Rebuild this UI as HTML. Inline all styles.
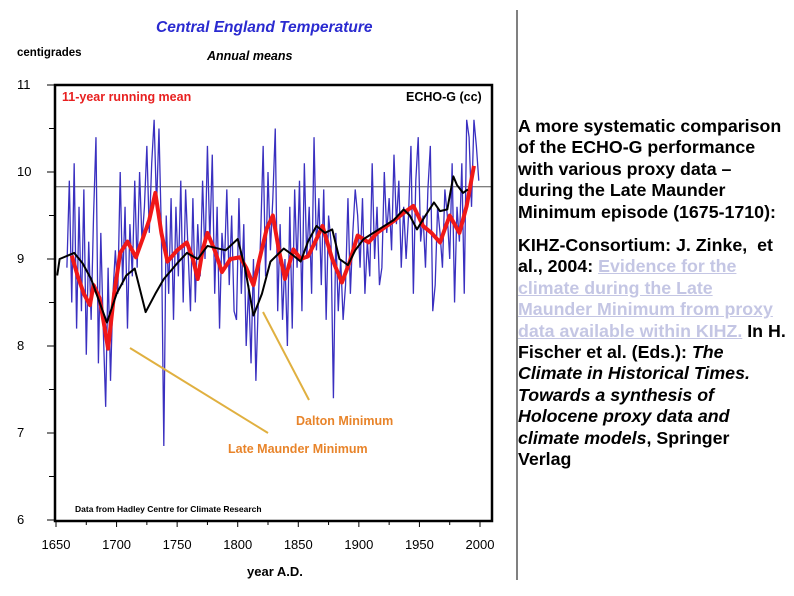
<!DOCTYPE html>
<html><head><meta charset="utf-8"><style>
body{margin:0;background:#fff;width:794px;height:596px;overflow:hidden;font-family:"Liberation Sans",sans-serif}
#txt{position:absolute;left:518px;top:116px;font-size:17.8px;font-weight:bold;line-height:21.4px;color:#000;width:276px;white-space:nowrap}
#txt p{margin:0}
#txt p+p{margin-top:12px}
#txt a{color:#c4c6e4;text-decoration:underline}
</style></head><body>
<svg width="794" height="596" style="position:absolute;left:0;top:0" font-family="Liberation Sans, sans-serif">
<text x="156" y="32" font-size="15.5" font-weight="bold" font-style="italic" fill="#2a2ad0">Central England Temperature</text>
<text x="207" y="60" font-size="12.5" font-weight="bold" font-style="italic" fill="#000">Annual means</text>
<text x="17" y="56" font-size="11.5" font-weight="bold" fill="#000">centigrades</text>
<text x="247" y="576" font-size="13" font-weight="bold" fill="#000">year A.D.</text>
<line x1="517" y1="10" x2="517" y2="580" stroke="#000" stroke-width="1"/>
<g id="plot"></g>
<rect x="55" y="85" width="437" height="436" fill="none" stroke="#000" stroke-width="2.5"/>
<text x="62" y="101" font-size="12.5" font-weight="bold" fill="#e82020">11-year running mean</text>
<text x="406" y="101" font-size="12.5" font-weight="bold" fill="#000">ECHO-G (cc)</text>
<line x1="130" y1="348" x2="268" y2="433" stroke="#e0b040" stroke-width="2"/>
<line x1="263" y1="312" x2="309" y2="400" stroke="#e0b040" stroke-width="2"/>
<text x="296" y="425" font-size="12.5" font-weight="bold" fill="#e8842a">Dalton Minimum</text>
<text x="228" y="453" font-size="12.5" font-weight="bold" fill="#e8842a">Late Maunder Minimum</text>
<text x="75" y="512" font-size="8.5" font-weight="bold" fill="#000">Data from Hadley Centre for Climate Research</text>
</svg>
<div id="txt"><p>A more systematic comparison<br>of the ECHO-G performance<br>with various proxy data –<br>during the Late Maunder<br>Minimum episode (1675-1710):</p><p>KIHZ-Consortium: J. Zinke,&nbsp; et<br>al., 2004: <a>Evidence for the<br>climate during the Late<br>Maunder Minimum from proxy<br>data available within KIHZ.</a> In H.<br>Fischer et al. (Eds.): <i>The<br>Climate in Historical Times.<br>Towards a synthesis of<br>Holocene proxy data and<br>climate models</i>, Springer<br>Verlag</p></div>
<script>
const xTicks=[1650,1700,1750,1800,1850,1900,1950,2000];
const yTicks=[6,7,8,9,10,11];
const refLine=9.83;
const annualStart=1659, annualStep=2;
const annualTemps=[8.9,9.9,8.5,10.1,8.2, 9.6,8.4,9.8,7.9,9.2, 8.3,9.5,10.4,7.8,9.3, 8.2,7.3,8.9,7.6,8.6,
9.1,8.6,10.0,8.7,9.6, 8.2,9.4,8.8,9.9,8.9, 10.0,9.2,9.6,10.3,9.3, 10.1,10.6,9.6,10.5,9.3,
6.85,9.5,8.6,9.7,8.3, 9.6,8.8,9.9,8.5,9.8, 9.1,8.4,9.7,8.5,9.4, 8.8,9.9,9.0,10.3,9.2,
10.2,8.6,9.6,8.2,9.3, 8.9,9.8,8.7,9.5,8.4, 8.3,9.7,8.6,9.4,8.0, 8.7,7.8,9.0,7.6,8.5,
9.3,10.3,8.8,10.0,9.1, 9.7,10.5,8.4,9.4,8.3, 9.0,8.0,9.6,8.2,9.8, 8.9,9.9,8.4,10.1,9.0,
9.6,8.6,10.4,9.1,9.7, 8.7,9.8,8.3,9.5,9.2, 7.4,9.3,8.4,9.0,8.3, 8.7,9.7,8.6,9.3,9.8,
9.5,8.9,9.7,8.6,9.2, 8.8,10.1,9.0,9.6,8.7, 8.9,10.0,9.3,9.7,9.1, 10.2,9.4,9.9,8.9,9.6,
9.0,9.5,10.3,8.6,9.9, 10.4,9.2,9.5,8.9,9.8, 10.3,8.4,8.7,9.6,9.3, 8.9,9.8,9.5,9.0,10.1,
8.5,9.6,9.2,10.1,8.6, 10.6,10.4,9.6,10.6,10.3, 9.9];
const meanYears=[1663,1668,1673,1678,1681,1686,1693,1698,1703,1709,1716,1722,1727,1732,1737,1742,1750,1758,1763,1767,1771,1775,1781,1787,1794,1802,1807,1813,1818,1824,1829,1834,1839,1846,1852,1858,1864,1870,1878,1886,1892,1899,1908,1915,1923,1930,1937,1945,1953,1960,1967,1975,1983,1989,1995];
const meanTemps=[9.04,8.8,8.6,8.47,8.7,8.55,7.97,8.6,9.07,9.2,9.02,9.25,9.45,9.76,9.3,8.97,9.1,9.19,9.0,8.77,9.1,9.3,9.1,8.85,9.0,9.02,8.9,8.7,9.0,9.35,9.5,9.1,8.77,9.11,9.0,9.03,9.2,9.38,9.0,8.73,8.95,9.27,9.19,9.3,9.38,9.45,9.53,9.61,9.38,9.3,9.19,9.5,9.3,9.61,10.07];
const echoYears=[1651,1653,1665,1672,1679,1692,1700,1708,1715,1724,1732,1739,1750,1758,1767,1775,1790,1800,1806,1813,1820,1827,1838,1845,1852,1858,1865,1872,1878,1884,1891,1897,1904,1912,1921,1929,1937,1942,1948,1955,1962,1967,1973,1978,1981,1986,1990];
const echoTemps=[8.81,9.0,9.07,8.95,8.77,8.27,8.6,8.81,8.89,8.39,8.6,8.77,8.95,9.07,9.0,9.15,9.1,9.23,8.9,8.35,8.6,8.97,9.12,9.05,8.97,9.2,9.38,9.3,9.34,9.0,8.93,9.1,9.23,9.3,9.38,9.45,9.57,9.5,9.34,9.5,9.65,9.55,9.57,9.95,9.85,9.76,9.8];
const X=y=>56+(y-1650)*(424/350);
const Y=t=>259-(t-9)*87;
const ns="http://www.w3.org/2000/svg";
const g=document.getElementById('plot');
function mk(tag,attrs){const e=document.createElementNS(ns,tag);for(const k in attrs)e.setAttribute(k,attrs[k]);g.appendChild(e);return e;}
yTicks.forEach((t,i)=>{
 const l=mk('line',{x1:47,x2:55,y1:Y(t),y2:Y(t),stroke:'#000','stroke-width':1});
 
 
 if(t<11){const h=mk('line',{x1:49,x2:55,y1:Y(t+0.5),y2:Y(t+0.5),stroke:'#000','stroke-width':1});
 
 }
 const tx=mk('text',{x:17,y:Y(t)+4,'font-size':13,fill:'#000'});tx.textContent=t;
 
 
});
xTicks.forEach(yr=>{
 const l=mk('line',{x1:X(yr),x2:X(yr),y1:521,y2:527,stroke:'#000','stroke-width':1});
 
 
 if(yr<2000){const m=mk('line',{x1:X(yr+25),x2:X(yr+25),y1:521,y2:525,stroke:'#000','stroke-width':1});
 
 }
 const tx=mk('text',{x:X(yr),y:549,'font-size':13,fill:'#000','text-anchor':'middle'});tx.textContent=yr;
 
 
});
const rl=mk('line',{x1:55,x2:492,y1:Y(refLine),y2:Y(refLine),stroke:'#555','stroke-width':1});


const pa=annualTemps.map((t,i)=>X(annualStart+i*annualStep)+','+Y(t)).join(' ');
const blue=mk('polyline',{points:pa,fill:'none',stroke:'#3a30c0','stroke-width':1.3});


const pm=meanYears.map((y,i)=>X(y)+','+Y(meanTemps[i])).join(' ');
const red=mk('polyline',{points:pm,fill:'none',stroke:'#f01818','stroke-width':4,'stroke-linejoin':'round'});


const pe=echoYears.map((y,i)=>X(y)+','+Y(echoTemps[i])).join(' ');
const blk=mk('polyline',{points:pe,fill:'none',stroke:'#000','stroke-width':2,'stroke-linejoin':'round'});


</script>
</body></html>
